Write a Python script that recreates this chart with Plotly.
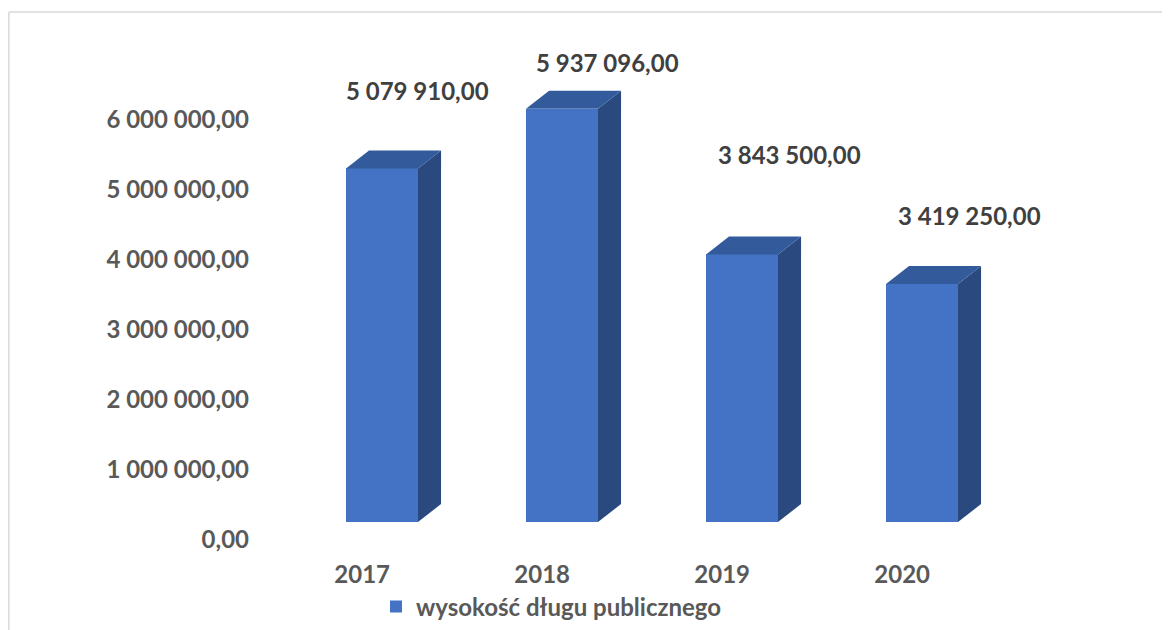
import plotly.graph_objects as go

# ---- data ----
years = ["2017", "2018", "2019", "2020"]
debt = [5079910.00, 5937096.00, 3843500.00, 3419250.00]
tick_values = [0, 1000000, 2000000, 3000000, 4000000, 5000000, 6000000]
series_name = "wysokość długu publicznego"

# ---- style / layout constants ----
OFF = 8                      # page body margin
W, H = 1170 - OFF, 630 - OFF
L, R, T, B = 258 - OFF, 70, 30 - OFF, 90
FONT = "Lato"
TXT = "#595959"
LBL = "#404040"
FRONT = "#4472C4"
TOP = "#335B9B"
SIDE = "#2A4A7F"
BAR_W = 0.4
DX = 0.128          # depth offset in x units
DY = 258000         # depth offset in y units
label_dx_px = [35, 45, 47, 47]
label_dy_px = [78, 46, 100, 69]


def fmt(v):
    return f"{v:,.2f}".replace(",", " ").replace(".", ",")


xs = list(range(len(years)))
fig = go.Figure()

fig.add_trace(go.Bar(
    x=xs, y=debt, width=BAR_W, name=series_name,
    marker=dict(color=FRONT, line=dict(width=0)),
    showlegend=True, hoverinfo="skip",
))

for i, v in zip(xs, debt):
    xr = i + BAR_W / 2
    xl = i - BAR_W / 2
    # side face
    fig.add_trace(go.Scatter(
        x=[xr, xr + DX, xr + DX, xr, xr],
        y=[0, DY, v + DY, v, 0],
        fill="toself", fillcolor=SIDE, mode="lines",
        line=dict(width=0, color=SIDE), showlegend=False, hoverinfo="skip",
    ))
    # top face
    fig.add_trace(go.Scatter(
        x=[xl, xl + DX, xr + DX, xr, xl],
        y=[v, v + DY, v + DY, v, v],
        fill="toself", fillcolor=TOP, mode="lines",
        line=dict(width=0, color=TOP), showlegend=False, hoverinfo="skip",
    ))

# invisible trace to carry the label axis
fig.add_trace(go.Scatter(x=[0], y=[0], yaxis="y2", mode="markers",
                         marker=dict(opacity=0), showlegend=False, hoverinfo="skip"))

for i, v, dxp, dyp in zip(xs, debt, label_dx_px, label_dy_px):
    fig.add_annotation(x=i, y=v, text=fmt(v), showarrow=False,
                       xshift=dxp, yshift=dyp,
                       font=dict(family=FONT, size=24, color=LBL, weight="bold"))

plot_h = H - T - B
plot_w = W - L - R
bottom_px = T + plot_h        # figure px of plot bottom
px_per_unit_x = 180.0
x0 = -(382 - OFF - L) / px_per_unit_x
x1 = x0 + plot_w / px_per_unit_x
front_scale = 69.6 / 1e6   # px per unit
y_lo = -(540 - 522) / front_scale
y_hi = y_lo + plot_h / front_scale
lab_scale = 70 / 1e6

fig.update_layout(
    width=W, height=H,
    margin=dict(l=L, r=R, t=T, b=B, autoexpand=False),
    paper_bgcolor="white", plot_bgcolor="white",
    font=dict(family=FONT, size=24, color=TXT, weight="bold"),
    xaxis=dict(range=[x0, x1], tickmode="array",
               tickvals=[i - 0.11 for i in xs], ticktext=years,
               showgrid=False, zeroline=False, showline=False, ticks="",
               ticklabelstandoff=18, automargin=False,
               tickfont=dict(family=FONT, size=24, color=TXT, weight="bold")),
    yaxis=dict(range=[y_lo, y_hi], showgrid=False, zeroline=False,
               showline=False, showticklabels=False, ticks="", automargin=False),
    yaxis2=dict(range=[0, plot_h / lab_scale], overlaying="y", side="left",
                tickmode="array", tickvals=tick_values,
                ticktext=[fmt(t) for t in tick_values],
                showgrid=False, zeroline=False, showline=False, ticks="",
                ticklabelstandoff=8, automargin=False,
                tickfont=dict(family=FONT, size=24, color=TXT, weight="bold")),
    legend=dict(orientation="h", x=(376 - OFF - L) / plot_w, xanchor="left",
                y=(bottom_px - (607 - OFF)) / plot_h, yanchor="middle",
                font=dict(family=FONT, size=24, color=TXT, weight="bold"),
                bgcolor="rgba(0,0,0,0)"),
    bargap=0,
)

# chart frame (page x=8, y=12)
bx0 = (8 - OFF - L) / plot_w
bx1 = (W - L) / plot_w
by_top = (bottom_px - (12 - OFF)) / plot_h
by_bot = (bottom_px - H) / plot_h
fig.add_shape(type="line", xref="paper", yref="paper", x0=bx0 + 0.001, x1=bx1,
              y0=by_top, y1=by_top, line=dict(color="#D9D9D9", width=1.5))
fig.add_shape(type="line", xref="paper", yref="paper", x0=bx0 + 0.001, x1=bx0 + 0.001,
              y0=by_top, y1=by_bot, line=dict(color="#D9D9D9", width=1.5))

fig.write_html("out.html")
